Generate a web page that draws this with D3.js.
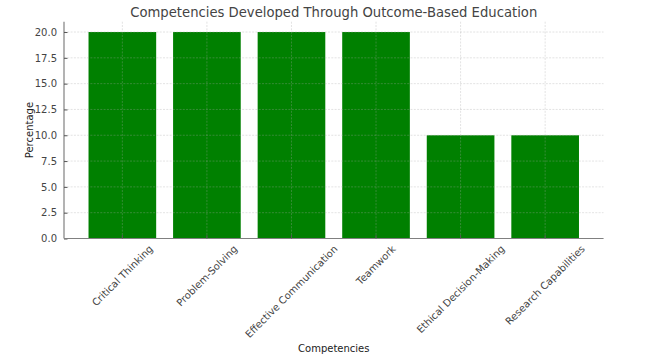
<!DOCTYPE html>
<html><head><meta charset="utf-8">
<script src="https://cdn.jsdelivr.net/npm/d3@7"></script>
<style>body{margin:0;background:#fff}svg{display:block}text{font-family:"DejaVu Sans",sans-serif}</style>
</head><body><svg id="c" width="660" height="361"></svg>
<script>
const categories = ["Critical Thinking","Problem-Solving","Effective Communication","Teamwork","Ethical Decision-Making","Research Capabilities"];
const values = [20,20,20,20,10,10];
const yTicks = [0,2.5,5,7.5,10,12.5,15,17.5,20];
const title = "Competencies Developed Through Outcome-Based Education";
const xLabel = "Competencies", yLabel = "Percentage";

const svg = d3.select("#c");
const L = 64, R = 603.5, T = 21.7, B = 238.5;
const n = categories.length;
const x = d3.scaleLinear().domain([-0.69, n - 1 + 0.69]).range([L, R]);
const y = d3.scaleLinear().domain([0, 21]).range([B, T]);
const bw = x(0.4) - x(-0.4);
const txt = "#444";

// bars
svg.append("g").selectAll("rect").data(values).join("rect")
  .attr("x", (d,i)=>x(i)-bw/2).attr("width", bw)
  .attr("y", d=>y(d)).attr("height", d=>B-y(d))
  .attr("fill", "#008000");

// grid
const g = svg.append("g").attr("stroke","#a8a8a8").attr("stroke-opacity",0.4).attr("stroke-width",0.8).attr("stroke-dasharray","2,1.3");
g.selectAll(".gy").data(yTicks).join("line").attr("x1",L).attr("x2",R).attr("y1",d=>y(d)).attr("y2",d=>y(d));
g.selectAll(".gx").data(categories).join("line").attr("y1",T).attr("y2",B).attr("x1",(d,i)=>x(i)).attr("x2",(d,i)=>x(i));

// y axis
const ya = d3.axisLeft(y).tickValues(yTicks).tickFormat(d3.format(".1f")).tickSizeInner(-3.5).tickSizeOuter(0).tickPadding(7);
const yg = svg.append("g").attr("transform",`translate(${L},0)`).call(ya);
yg.select(".domain").attr("stroke","#808080").attr("stroke-width",1.2).attr("d",`M0,${T}V${B}`);
yg.selectAll(".tick line").attr("stroke","#555");
yg.selectAll(".tick text").attr("fill",txt).style("font-size","10px").style("font-family","DejaVu Sans");

// x axis
const xg = svg.append("g");
xg.append("line").attr("x1",L).attr("x2",R).attr("y1",B).attr("y2",B).attr("stroke","#808080").attr("stroke-width",1.2);
xg.selectAll(".tk").data(categories).join("line").attr("x1",(d,i)=>x(i)).attr("x2",(d,i)=>x(i)).attr("y1",B).attr("y2",B-3.5).attr("stroke","#555");
const h = 11.7, topY = 243;
xg.selectAll(".lbl").data(categories).join("text")
  .attr("fill",txt).style("font-size","10px").text(d=>d)
  .each(function(d,i){
    const Ln = this.getComputedTextLength();
    const cx = x(i);
    const tlx = cx - 0.7071*(Ln+h)/2, tly = topY + 0.7071*Ln;
    d3.select(this).attr("transform",`translate(${tlx},${tly}) rotate(-45)`).attr("x",0).attr("y",9.3);
  });

// title & labels
svg.append("text").attr("x",(L+R)/2).attr("y",17).attr("text-anchor","middle").attr("fill",txt).style("font-size","13.2px").text(title);
svg.append("text").attr("x",(L+R)/2).attr("y",352).attr("text-anchor","middle").attr("fill","#222").style("font-size","10px").text(xLabel);
svg.append("text").attr("transform",`translate(33,${(T+B)/2}) rotate(-90)`).attr("text-anchor","middle").attr("fill","#222").style("font-size","10px").text(yLabel);
</script></body></html>
